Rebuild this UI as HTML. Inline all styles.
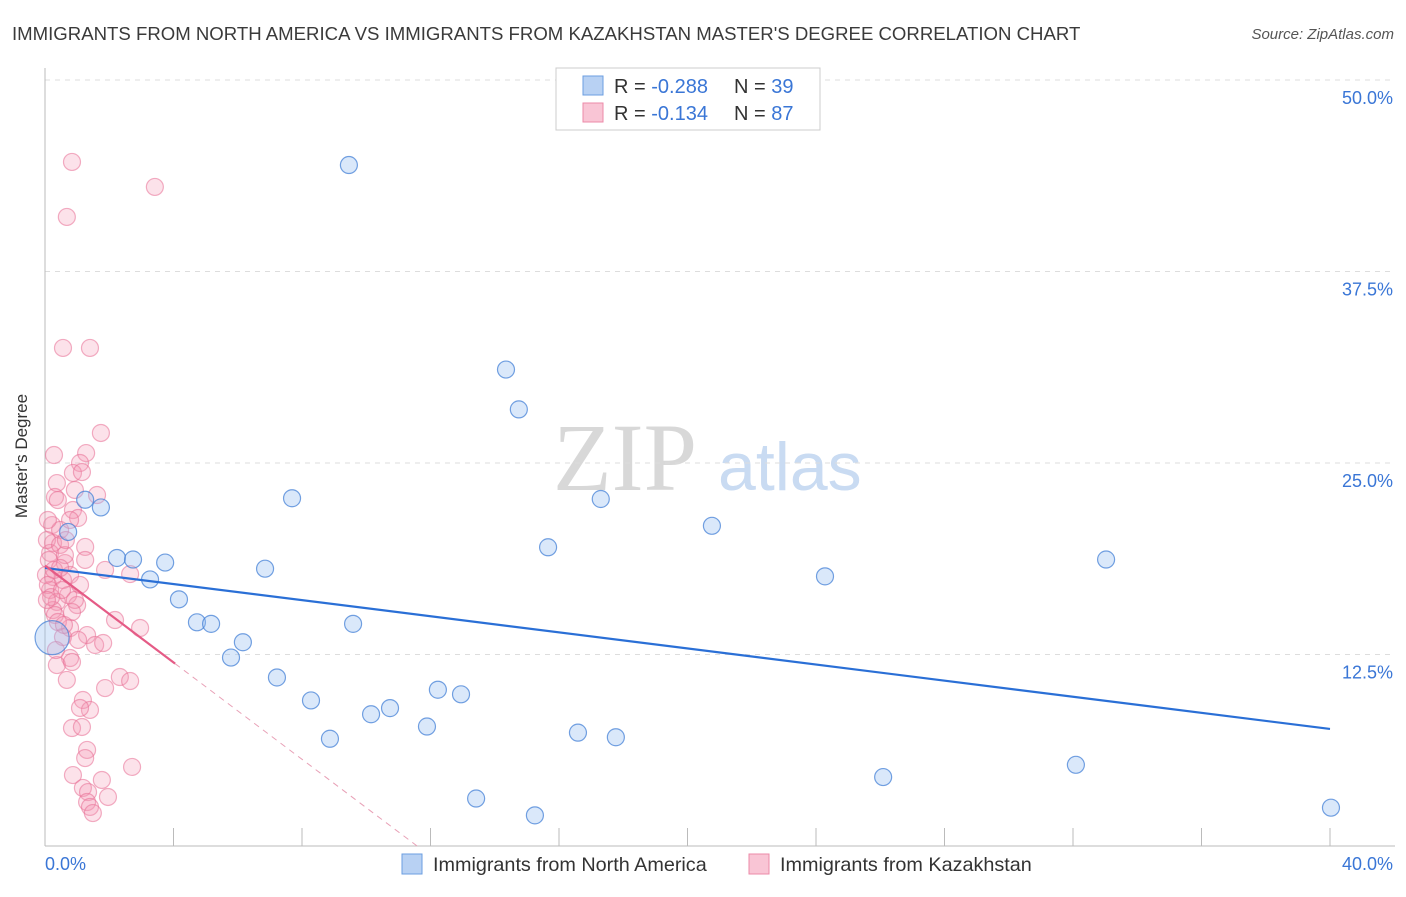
<!DOCTYPE html>
<html><head><meta charset="utf-8"><style>
body{margin:0;background:#fff;font-family:"Liberation Sans",sans-serif;}
</style></head><body>
<svg width="1406" height="892" xmlns="http://www.w3.org/2000/svg" id="svg" font-family="Liberation Sans, sans-serif">
<text x="12" y="40" font-size="18.6" fill="#3a3a3a">IMMIGRANTS FROM NORTH AMERICA VS IMMIGRANTS FROM KAZAKHSTAN MASTER'S DEGREE CORRELATION CHART</text>
<text x="1394" y="39" font-size="15" fill="#555" text-anchor="end" font-style="italic">Source: ZipAtlas.com</text>
<text x="27" y="456" font-size="17" fill="#333" text-anchor="middle" transform="rotate(-90 27 456)">Master's Degree</text>
<g>
<text x="553" y="490" font-size="96" fill="#d8d8d8" font-family="Liberation Serif, serif">ZIP</text>
<text x="718" y="490" font-size="68" fill="#c9dbf2">atlas</text>
</g>
<g id="grid"></g>
<g id="axes"></g>
<g id="pts"></g>
<g id="lines"></g>
<g>
<rect x="556" y="68" width="264" height="62" fill="#fff" stroke="#ccc"/>
<rect x="583" y="76" width="20" height="19" fill="#b8d1f3" stroke="#6b9ee0"/>
<text x="614" y="93" font-size="20" fill="#333">R = <tspan fill="#3a76d6">-0.288</tspan></text>
<text x="734" y="93" font-size="20" fill="#333">N = <tspan fill="#3a76d6">39</tspan></text>
<rect x="583" y="103" width="20" height="19" fill="#f9c5d5" stroke="#ec8aa8"/>
<text x="614" y="120" font-size="20" fill="#333">R =  <tspan fill="#3a76d6">-0.134</tspan></text>
<text x="734" y="120" font-size="20" fill="#333">N = <tspan fill="#3a76d6">87</tspan></text>
</g>
<g>
<rect x="402" y="854" width="20" height="20" fill="#b8d1f3" stroke="#6b9ee0"/>
<text x="433" y="871" font-size="19.8" fill="#333">Immigrants from North America</text>
<rect x="749" y="854" width="20" height="20" fill="#f9c5d5" stroke="#ec8aa8"/>
<text x="780" y="871" font-size="19.8" fill="#333">Immigrants from Kazakhstan</text>
</g>
</svg>
<script>
const yTicks=[12.5,25,37.5,50];
const yTickLabels=["12.5%","25.0%","37.5%","50.0%"];
const xTickLabels=["0.0%","40.0%"];
const blueX=[9.46,14.35,14.75,7.69,17.3,20.76,15.66,33.03,24.28,1.25,1.74,0.72,2.24,2.74,3.74,3.27,6.85,4.17,4.73,5.17,9.59,6.16,5.79,7.22,8.28,12.23,12.95,10.74,10.15,11.89,8.87,16.59,17.77,26.09,32.09,13.42,15.25,40.03,0.22];
const blueY=[44.45,31.1,28.5,22.7,22.65,20.9,19.5,18.7,17.6,22.6,22.1,20.5,18.8,18.7,18.5,17.4,18.1,16.1,14.6,14.5,14.5,13.3,12.3,11.0,9.5,10.2,9.9,9.0,8.6,7.8,7.0,7.4,7.1,4.5,5.3,3.1,2.0,2.5,13.6];
const pinkPx=[[101,433],[54,455],[86,453],[80,463],[73,473],[82,472],[57,483],[75,490],[55,497],[97,495],[73,510],[78,518],[52,525],[60,530],[53,543],[85,547],[50,553],[65,563],[105,570],[130,574],[53,577],[63,580],[50,590],[68,595],[57,602],[77,605],[53,610],[115,620],[140,628],[70,628],[87,635],[63,637],[95,645],[103,643],[70,658],[57,665],[72,662],[120,677],[130,681],[67,680],[105,688],[83,700],[90,710],[80,708],[72,728],[82,727],[87,750],[85,758],[132,767],[73,775],[102,780],[83,788],[88,792],[108,797],[87,802],[90,807],[93,813],[72,162],[155,187],[67,217],[63,348],[90,348],[48,520],[47,540],[49,560],[46,575],[48,585],[51,597],[55,615],[58,622],[47,600],[60,545],[65,555],[70,575],[62,590],[75,600],[80,585],[58,500],[66,540],[54,570],[72,612],[64,625],[78,640],[56,650],[60,568],[85,560],[70,520]];
const pinkX=pinkPx.map(p=>+((p[0]-45)/32.125).toFixed(2));
const pinkY=pinkPx.map(p=>+((846-p[1])/15.32).toFixed(2));
const blueTrend=[18.15,7.64];
const pinkTrend=[18.3,-1.58];
const X0=45,X1=1330,Y0=846,Y50=80;
const sx=v=>X0+(X1-X0)*v/40;
const sy=v=>Y0-(Y0-Y50)*v/50;
const NS="http://www.w3.org/2000/svg";
function mk(t,a,p){const e=document.createElementNS(NS,t);for(const k in a)e.setAttribute(k,a[k]);document.getElementById(p).appendChild(e);return e;}
yTicks.forEach((t,i)=>{
 const l=mk('line',{x1:45,x2:1395,y1:sy(t),y2:sy(t),stroke:'#ddd','stroke-dasharray':'5,5'},'grid');
 
 
 const tx=mk('text',{x:1393,y:sy(t)+24,'font-size':18,fill:'#3a76d6','text-anchor':'end'},'axes');
 tx.textContent=yTickLabels[i];
 
 
});
let ax=mk('line',{x1:45,x2:45,y1:68,y2:846,stroke:'#bbb'},'axes');


ax=mk('line',{x1:45,x2:1395,y1:846,y2:846,stroke:'#bbb'},'axes');


for(let i=0;i<=10;i++){const t=mk('line',{x1:sx(i*4),x2:sx(i*4),y1:828,y2:846,stroke:'#bbb'},'axes');
 
 }
[[0,45,'start'],[1,1393,'end']].forEach(([i,x,a])=>{const t=mk('text',{x:x,y:870,'font-size':18,fill:'#3a76d6','text-anchor':a},'axes');t.textContent=xTickLabels[i];
 
 });
pinkX.forEach((x,i)=>{const c=mk('circle',{cx:sx(x),cy:sy(pinkY[i]),r:8.5,fill:'rgba(244,150,178,0.28)',stroke:'rgba(232,110,148,0.55)','stroke-width':1.2},'pts');
 
 });
blueX.forEach((x,i)=>{const big=i===blueX.length-1;const c=mk('circle',{cx:sx(x),cy:sy(blueY[i]),r:big?17:8.5,fill:'rgba(150,190,240,0.35)',stroke:'rgba(70,130,215,0.75)','stroke-width':1.2},'pts');
 
 });
let l=mk('line',{x1:sx(0),y1:sy(blueTrend[0]),x2:sx(40),y2:sy(blueTrend[1]),stroke:'#2a6fd6','stroke-width':2.2},'lines');


const pe=x=>pinkTrend[0]+pinkTrend[1]*x;
l=mk('line',{x1:sx(0),y1:sy(pe(0)),x2:sx(4.05),y2:sy(pe(4.05)),stroke:'#e55b86','stroke-width':2.2},'lines');


const xe=-pinkTrend[0]/pinkTrend[1];
l=mk('line',{x1:sx(4.05),y1:sy(pe(4.05)),x2:sx(xe),y2:sy(0),stroke:'#e8a0b6','stroke-width':1,'stroke-dasharray':'6,5'},'lines');


</script>
</body></html>
